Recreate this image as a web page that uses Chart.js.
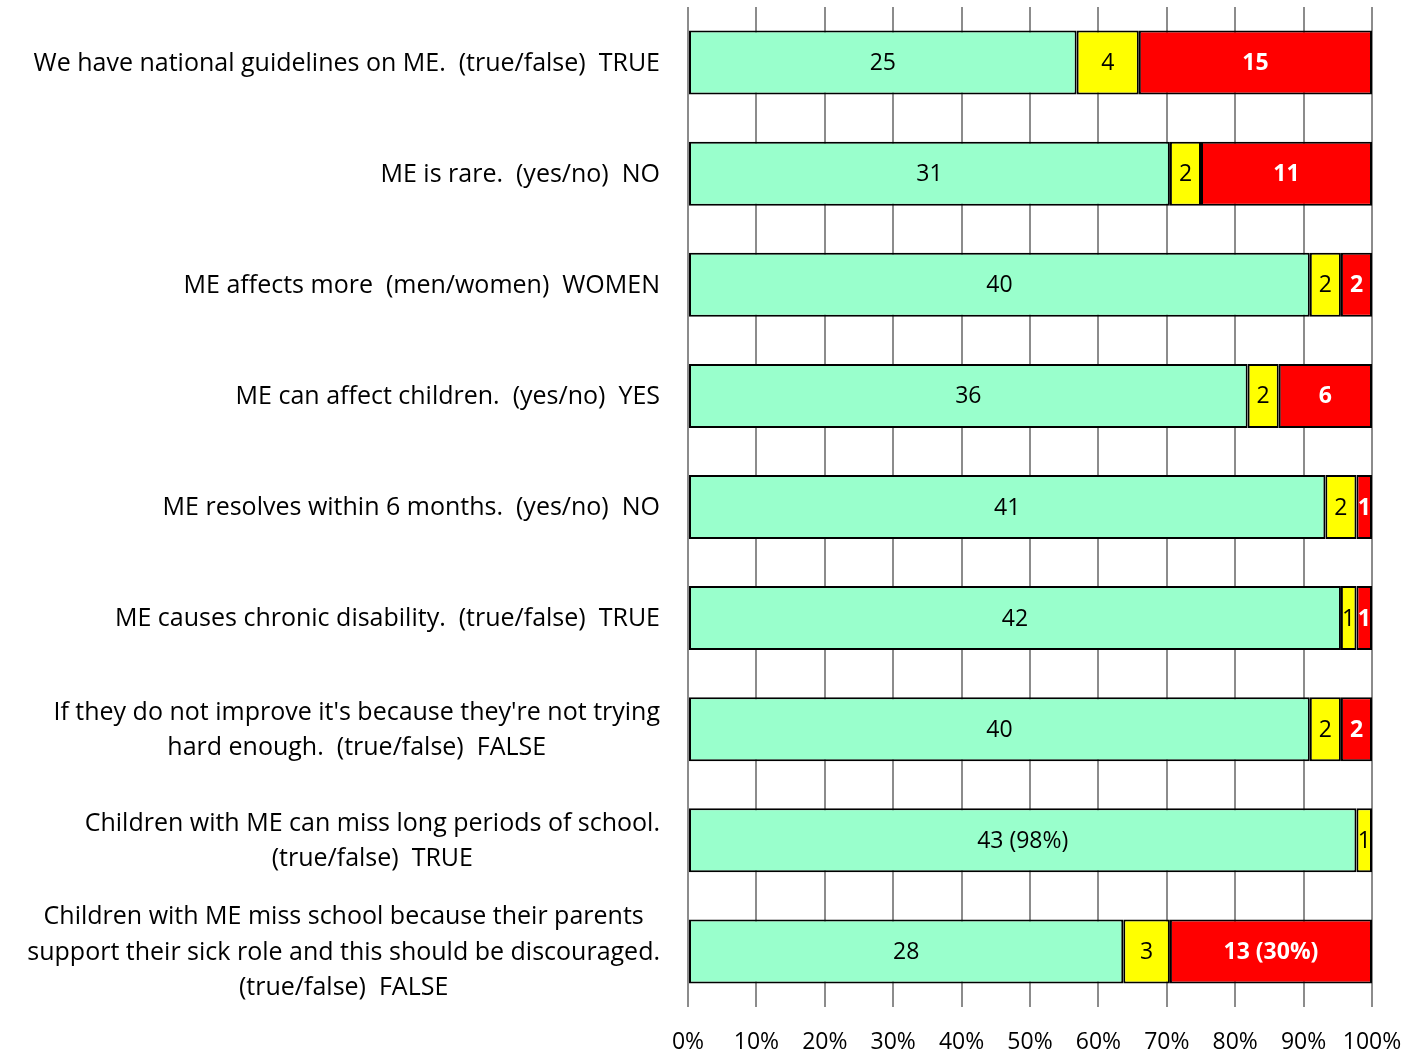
<!DOCTYPE html>
<html>
<head>
<meta charset="utf-8">
<script src="https://cdn.jsdelivr.net/npm/chart.js@4/dist/chart.umd.min.js"></script>
<style>
  html, body { margin: 0; padding: 0; background: #ffffff; }
  #wrap { width: 1419px; height: 1055px; position: relative; }
</style>
</head>
<body>
<div id="wrap"><canvas id="c" width="1419" height="1055"></canvas></div>
<script>
// Survey statements (line breaks mark wrapped label lines)
const categories = [
  ["We have national guidelines on ME.  (true/false)  TRUE"],
  ["ME is rare.  (yes/no)  NO"],
  ["ME affects more  (men/women)  WOMEN"],
  ["ME can affect children.  (yes/no)  YES"],
  ["ME resolves within 6 months.  (yes/no)  NO"],
  ["ME causes chronic disability.  (true/false)  TRUE"],
  ["If they do not improve it's because they're not trying", "hard enough.  (true/false)  FALSE"],
  ["Children with ME can miss long periods of school.", "(true/false)  TRUE"],
  ["Children with ME miss school because their parents", "support their sick role and this should be discouraged.", "(true/false)  FALSE"]
];

// Answer counts per statement
const correct  = [25, 31, 40, 36, 41, 42, 40, 43, 28];
const unsure   = [4, 2, 2, 2, 2, 1, 2, 1, 3];
const wrong    = [15, 11, 2, 6, 1, 1, 2, 0, 13];

// Segment labels (counts, a few with a percentage note)
const correctLabels = ["25", "31", "40", "36", "41", "42", "40", "43 (98%)", "28"];
const unsureLabels  = ["4", "2", "2", "2", "2", "1", "2", "1", "3"];
const wrongLabels   = ["15", "11", "2", "6", "1", "1", "2", "", "13 (30%)"];

// X axis tick values (percent)
const xTicks = [0, 10, 20, 30, 40, 50, 60, 70, 80, 90, 100];

const totals = correct.map((v, i) => v + unsure[i] + wrong[i]);
const pct = arr => arr.map((v, i) => v / totals[i] * 100);

const FONT = "'Open Sans', Lato, sans-serif";

// Draws a text label centred in each bar segment
const segmentLabels = {
  id: 'segmentLabels',
  afterDatasetsDraw(chart) {
    const ctx = chart.ctx;
    ctx.save();
    ctx.textAlign = 'center';
    ctx.textBaseline = 'middle';
    chart.data.datasets.forEach((ds, di) => {
      const meta = chart.getDatasetMeta(di);
      meta.data.forEach((bar, i) => {
        const txt = ds.segmentText[i];
        if (!txt) return;
        const p = bar.getProps(['x', 'y', 'base'], true);
        const cx = (p.x + p.base) / 2;
        ctx.font = (ds.labelBold ? 'bold ' : '') + '23px ' + FONT;
        ctx.fillStyle = ds.labelColor;
        ctx.fillText(txt, cx, p.y + 1);
      });
    });
    ctx.restore();
  }
};

// Category labels: each block right-aligned to the axis, lines centred within the block
const categoryLabels = {
  id: 'categoryLabels',
  afterDraw(chart) {
    const ctx = chart.ctx;
    const yScale = chart.scales.y;
    const right = chart.chartArea.left - 28;
    const lineH = 35.5;
    ctx.save();
    ctx.font = '25px ' + FONT;
    ctx.fillStyle = '#000000';
    ctx.textAlign = 'center';
    ctx.textBaseline = 'middle';
    categories.forEach((lines, i) => {
      const cy = yScale.getPixelForValue(i);
      const w = Math.max(...lines.map(l => ctx.measureText(l).width));
      const cx = right - w / 2;
      const y0 = cy - (lines.length - 1) * lineH / 2;
      lines.forEach((l, k) => ctx.fillText(l, cx, y0 + k * lineH + 1));
    });
    ctx.restore();
  }
};

const common = {
  borderColor: '#000000',
  borderWidth: 2,
  borderSkipped: false,
  barPercentage: 0.576,
  categoryPercentage: 1.0
};

new Chart(document.getElementById('c'), {
  type: 'bar',
  data: {
    labels: categories,
    datasets: [
      Object.assign({ label: 'Correct', data: pct(correct), backgroundColor: '#99FFCC',
        segmentText: correctLabels, labelColor: '#000000', labelBold: false }, common),
      Object.assign({ label: 'Unsure', data: pct(unsure), backgroundColor: '#FFFF00',
        segmentText: unsureLabels, labelColor: '#000000', labelBold: false }, common),
      Object.assign({ label: 'Wrong', data: pct(wrong), backgroundColor: '#FF0000',
        segmentText: wrongLabels, labelColor: '#FFFFFF', labelBold: true }, common)
    ]
  },
  options: {
    indexAxis: 'y',
    responsive: false,
    animation: false,
    devicePixelRatio: 1,
    layout: { padding: { top: 7, right: 47, bottom: 0, left: 0 } },
    plugins: { legend: { display: false }, tooltip: { enabled: false } },
    scales: {
      x: {
        stacked: true,
        min: 0,
        max: 100,
        afterBuildTicks(scale) { scale.ticks = xTicks.map(v => ({ value: v })); },
        afterFit(scale) {
          scale.height = 48;
          scale.paddingLeft = 0;
          scale.paddingRight = 0;
        },
        grid: { color: '#8C8C8C', lineWidth: 2, drawTicks: false },
        border: { display: false },
        ticks: {
          callback: v => v + '%',
          color: '#000000',
          padding: 22,
          maxRotation: 0,
          autoSkip: false,
          font: { family: FONT, size: 23 }
        }
      },
      y: {
        stacked: true,
        afterFit(scale) { scale.width = 688; },
        grid: { display: false },
        border: { display: false },
        ticks: { display: false }
      }
    }
  },
  plugins: [segmentLabels, categoryLabels]
});
</script>
</body>
</html>
